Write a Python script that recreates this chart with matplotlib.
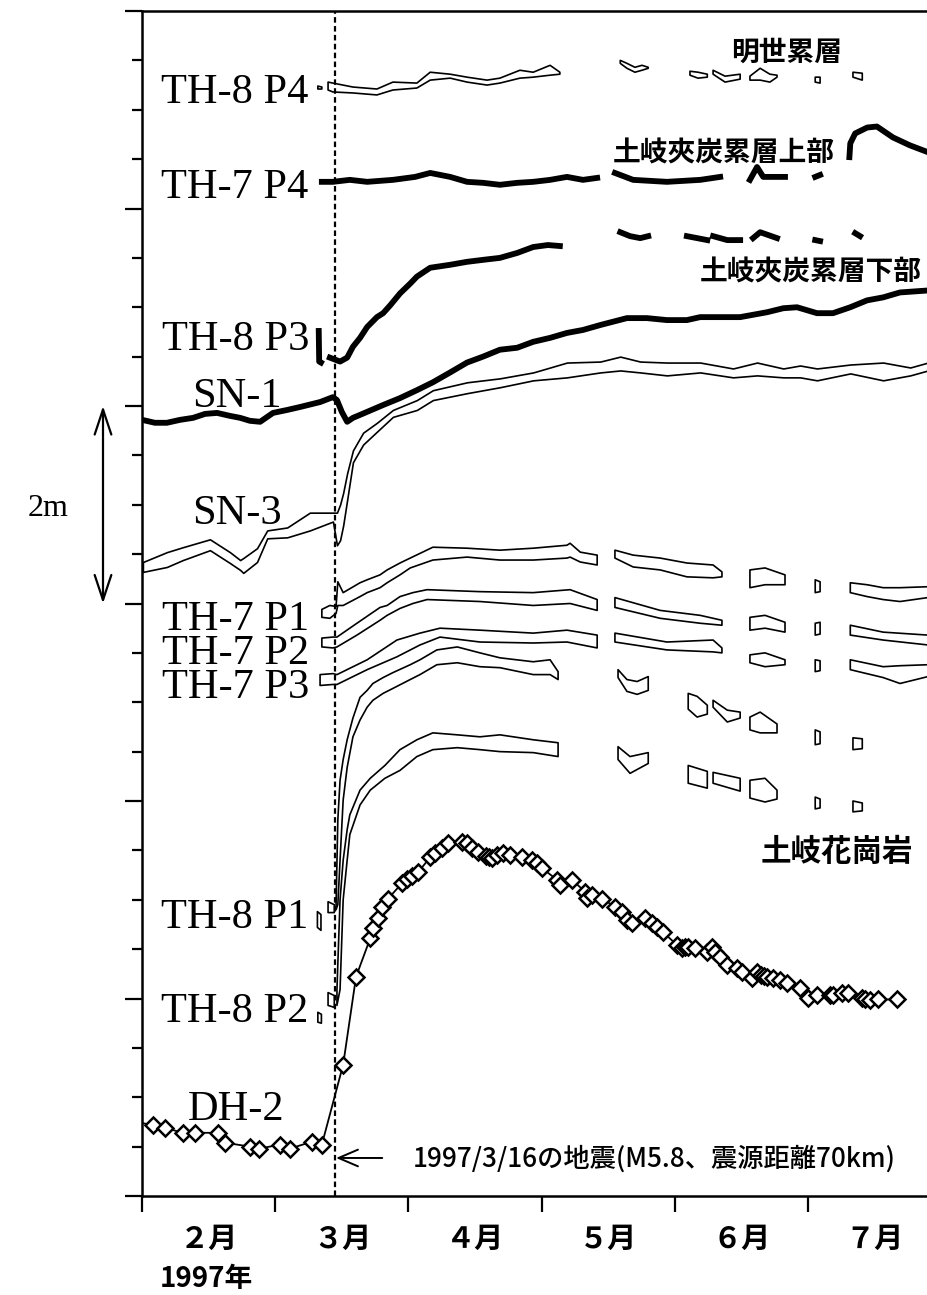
import numpy as np
import matplotlib
matplotlib.use("Agg")
import matplotlib.pyplot as plt

nan = np.nan

# x: days from 1 Feb 1997 (ticks every 30 days), y: water level in m, traces offset
EQ_DAY = 43.5
MONTH_TICKS = [0, 30, 60, 90, 120, 150]
MONTHS = ["２月", "３月", "４月", "５月", "６月", "７月"]

# open traces: daily min / max of each borehole section
TH8P4_DAY = [39.6, 40.5, nan, 41.9, 43.0, 47.5, 52.9, 56.5, 61.9, 64.9, 69.4, 73.2, 77.7, 80.6, 85.1, 88.1, 91.9, 94.1, nan,
             107.7, 109.2, 111.0, 112.6, 114.0, nan, 123.4, 125.2, 127.3, nan, 128.6, 131.3, 134.7, nan,
             136.9, 139.2, 141.4, 143.0, nan, 151.6, 152.7, nan, 160.1, 162.2]
TH8P4_HI = [11.24, 11.23, nan, 11.28, 11.27, 11.23, 11.21, 11.28, 11.27, 11.38, 11.36, 11.33, 11.30, 11.32, 11.40, 11.38, 11.45, 11.38, nan,
            11.50, 11.47, 11.43, 11.45, 11.43, nan, 11.39, 11.38, 11.36, nan, 11.40, 11.34, 11.36, nan,
            11.34, 11.42, 11.36, 11.35, nan, 11.33, 11.33, nan, 11.38, 11.37]
TH8P4_LO = [11.21, 11.21, nan, 11.20, 11.18, 11.17, 11.15, 11.20, 11.22, 11.30, 11.32, 11.28, 11.25, 11.27, 11.32, 11.33, 11.35, 11.36, nan,
            11.47, 11.42, 11.38, 11.40, 11.42, nan, 11.35, 11.32, 11.33, nan, 11.36, 11.28, 11.31, nan,
            11.30, 11.30, 11.28, 11.33, nan, 11.28, 11.27, nan, 11.33, 11.30]

SN3_DAY = [0.2, 5.6, 9.2, 15.3, 19.8, 22.1, 22.8, 25.9, 28.2, 32.7, 37.8, 43.0, 43.9, 44.6, 45.3, 46.2, 47.5, 49.8, 52.9, 56.5,
           61.9, 65.5, 73.2, 80.6, 88.1, 95.7, 103.2, 107.7, 112.2, 118.2, 125.7, 133.1, 138.5, 144.4, 148.2, 152.0,
           159.5, 166.9, 173.0, 177.0]
SN3_HI = [6.42, 6.52, 6.57, 6.65, 6.52, 6.44, 6.46, 6.56, 6.74, 6.77, 6.92, 6.92, 6.92, 7.00, 7.12, 7.32, 7.55, 7.73, 7.83, 7.96,
          8.06, 8.16, 8.24, 8.28, 8.34, 8.44, 8.45, 8.50, 8.45, 8.44, 8.44, 8.38, 8.44, 8.38, 8.41, 8.38,
          8.42, 8.44, 8.39, 8.44]
SN3_LO = [6.32, 6.37, 6.44, 6.54, 6.41, 6.34, 6.31, 6.42, 6.66, 6.67, 6.74, 6.83, 6.59, 6.64, 6.79, 7.05, 7.43, 7.61, 7.74, 7.89,
          7.96, 8.06, 8.13, 8.19, 8.26, 8.29, 8.34, 8.36, 8.34, 8.31, 8.34, 8.29, 8.31, 8.29, 8.29, 8.26,
          8.33, 8.26, 8.31, 8.36]

TH7P1_DAY = [40.5, 42.3, 43.7, 44.1, 45.3, 49.1, 50.7, 53.6, 55.2, 58.1, 60.4, 65.5, 73.2, 80.6, 88.1, 95.7, 96.4, 98.7, 102.5, nan,
             106.5, 110.6, 116.7, 122.7, 128.6, 130.6, nan, 136.9, 140.3, 144.8, nan, 151.6, 152.7, nan,
             159.5, 163.3, 166.9, 170.7, 177.0]
TH7P1_HI = [5.94, 5.98, 5.97, 6.22, 6.11, 6.21, 6.24, 6.29, 6.34, 6.41, 6.46, 6.57, 6.56, 6.54, 6.56, 6.59, 6.61, 6.52, 6.49, nan,
            6.54, 6.49, 6.46, 6.41, 6.39, 6.32, nan, 6.34, 6.36, 6.29, nan, 6.24, 6.22, nan,
            6.21, 6.19, 6.16, 6.16, 6.17]
TH7P1_LO = [5.86, 5.85, 5.90, 5.98, 5.98, 6.07, 6.11, 6.16, 6.21, 6.29, 6.36, 6.44, 6.47, 6.44, 6.44, 6.46, 6.47, 6.42, 6.39, nan,
            6.46, 6.37, 6.34, 6.27, 6.26, 6.27, nan, 6.16, 6.19, 6.19, nan, 6.11, 6.12, nan,
            6.11, 6.07, 6.04, 6.02, 6.06]

TH7P2_DAY = [40.5, 43.0, 43.9, 48.4, 53.6, 55.2, 58.1, 61.0, 64.2, 76.1, 88.1, 96.4, 102.5, nan,
             106.5, 116.7, 125.7, 130.6, nan, 136.9, 140.3, 144.8, nan, 151.6, 152.7, nan, 159.5, 166.9, 177.0]
TH7P2_HI = [5.65, 5.66, 5.66, 5.80, 5.96, 5.98, 6.07, 6.11, 6.14, 6.12, 6.11, 6.14, 6.04, nan,
            6.06, 5.93, 5.88, 5.83, nan, 5.86, 5.88, 5.81, nan, 5.80, 5.81, nan, 5.78, 5.71, 5.68]
TH7P2_LO = [5.56, 5.55, 5.56, 5.68, 5.83, 5.88, 5.95, 6.00, 6.04, 6.02, 5.98, 6.00, 5.93, nan,
            5.96, 5.85, 5.80, 5.78, nan, 5.73, 5.75, 5.71, nan, 5.68, 5.69, nan, 5.68, 5.63, 5.58]

TH7P3_DAY = [40.1, 43.0, 43.9, 50.7, 57.4, 62.6, 67.1, 76.1, 88.1, 95.7, 102.5, nan,
             106.5, 118.2, 128.6, 130.6, nan, 136.9, 140.3, 144.8, nan, 151.6, 152.7, nan, 159.5, 166.9, 170.7, 177.0]
TH7P3_HI = [5.28, 5.29, 5.28, 5.43, 5.63, 5.70, 5.75, 5.73, 5.70, 5.73, 5.68, nan,
            5.70, 5.61, 5.63, 5.55, nan, 5.48, 5.50, 5.43, nan, 5.43, 5.42, nan, 5.43, 5.36, 5.37, 5.38]
TH7P3_LO = [5.17, 5.18, 5.18, 5.33, 5.46, 5.58, 5.66, 5.61, 5.60, 5.61, 5.55, nan,
            5.61, 5.53, 5.51, 5.50, nan, 5.40, 5.36, 5.38, nan, 5.31, 5.32, nan, 5.33, 5.25, 5.19, 5.26]

TH8P1_DAY = [39.5, 40.3, nan, 41.9, 43.3, nan, 43.7, 44.1, 44.6, 45.3, 46.2, 47.5, 49.1, 50.7, 52.0, 54.3, 56.5, 60.4, 62.6,
             66.4, 71.0, 76.1, 80.6, 88.1, 91.9, 93.7, nan, 107.2, 109.2, 111.5, 114.0, nan, 123.0, 125.0, 127.3, nan,
             128.6, 131.8, 134.7, nan, 136.9, 139.2, 143.0, nan, 151.6, 152.7, nan, 160.1, 162.2]
TH8P1_HI = [2.88, 2.85, nan, 2.98, 2.95, nan, 2.95, 3.81, 4.21, 4.42, 4.62, 4.84, 5.05, 5.12, 5.19, 5.25, 5.30, 5.38, 5.43,
            5.53, 5.56, 5.50, 5.45, 5.41, 5.43, 5.31, nan, 5.33, 5.23, 5.21, 5.26, nan, 5.09, 5.06, 4.97, nan,
            5.02, 4.92, 4.90, nan, 4.85, 4.90, 4.78, nan, 4.72, 4.70, nan, 4.64, 4.63]
TH8P1_LO = [2.72, 2.69, nan, 2.87, 2.87, nan, 2.90, 2.95, 3.40, 4.01, 4.34, 4.65, 4.82, 4.95, 5.02, 5.09, 5.14, 5.23, 5.28,
            5.38, 5.40, 5.36, 5.35, 5.28, 5.28, 5.23, nan, 5.25, 5.11, 5.08, 5.12, nan, 4.93, 4.85, 4.88, nan,
            4.95, 4.80, 4.84, nan, 4.72, 4.69, 4.69, nan, 4.57, 4.58, nan, 4.52, 4.53]

TH8P2_DAY = [39.6, 40.4, nan, 41.9, 43.3, nan, 43.9, 44.6, 45.3, 46.2, 46.8, 49.1, 51.4, 54.7, 58.1, 61.9, 65.5, 71.0, 76.1,
             80.6, 88.1, 93.7, nan, 107.2, 109.9, 114.0, nan, 123.0, 127.3, nan, 128.6, 134.7, nan,
             136.9, 140.3, 143.0, nan, 151.6, 152.7, nan, 160.1, 162.2]
TH8P2_HI = [1.86, 1.84, nan, 2.06, 2.03, nan, 2.09, 3.00, 3.40, 3.71, 3.86, 4.11, 4.23, 4.36, 4.52, 4.62, 4.69, 4.67, 4.65,
            4.67, 4.62, 4.59, nan, 4.55, 4.45, 4.49, nan, 4.36, 4.30, nan, 4.29, 4.23, nan,
            4.21, 4.23, 4.11, nan, 4.04, 4.02, nan, 4.00, 3.98]
TH8P2_LO = [1.76, 1.75, nan, 1.93, 1.91, nan, 1.93, 2.09, 3.00, 3.40, 3.66, 3.96, 4.11, 4.23, 4.31, 4.45, 4.52, 4.54, 4.52,
            4.50, 4.49, 4.45, nan, 4.42, 4.28, 4.38, nan, 4.18, 4.13, nan, 4.18, 4.10, nan,
            4.03, 3.99, 4.02, nan, 3.92, 3.93, nan, 3.89, 3.90]

# heavy traces
TH7P4_DAY = [40.5, 43.0, 46.8, 50.7, 56.5, 61.5, 64.9, 69.4, 73.2, 76.8, 80.6, 84.5, 88.1, 91.9, 95.7, 99.3, 102.5, nan,
             106.5, 110.6, 118.2, 125.7, 130.2, nan, 136.9, 138.5, 139.9, 144.8, nan, 151.6, 152.7, nan,
             159.3, 159.5, 160.6, 163.3, 165.5, 169.1, 172.9, 177.0]
TH7P4_LVL = [10.27, 10.27, 10.29, 10.27, 10.29, 10.32, 10.36, 10.32, 10.27, 10.26, 10.24, 10.26, 10.27, 10.29, 10.32, 10.29, 10.31, nan,
             10.36, 10.29, 10.27, 10.29, 10.32, nan, 10.29, 10.42, 10.32, 10.32, nan, 10.32, 10.34, nan,
             10.52, 10.66, 10.76, 10.82, 10.83, 10.72, 10.64, 10.57]

TH8P3_DAY = [39.8, 39.9, 40.3, nan, 42.3, 44.6, 46.2, 47.5, 49.1, 50.7, 52.9, 54.3, 55.9, 58.1, 60.4, 61.9, 64.9, 69.4, 73.2,
             76.8, 80.6, 84.5, 88.1, 91.4, 94.1, nan, 107.7, 109.9, 112.2, 114.0, nan, 122.7, 125.0, 127.3, nan,
             128.6, 131.8, 134.7, nan, 137.6, 139.2, 143.0, nan, 151.6, 152.7, nan, 160.6, 161.7]
TH8P3_LVL = [8.76, 8.45, 8.44, nan, 8.49, 8.45, 8.49, 8.60, 8.69, 8.80, 8.90, 8.94, 9.02, 9.14, 9.24, 9.31, 9.40, 9.43, 9.46,
             9.48, 9.50, 9.55, 9.61, 9.63, 9.62, nan, 9.76, 9.72, 9.70, 9.72, nan, 9.72, 9.70, 9.68, nan,
             9.72, 9.68, 9.68, nan, 9.70, 9.76, 9.70, nan, 9.68, 9.67, nan, 9.75, 9.72]

SN1_DAY = [0, 2.9, 5.6, 8.6, 11.5, 14.2, 16.9, 19.8, 22.1, 24.3, 26.6, 29.5, 32.7, 35.6, 40.1, 43.0, 43.9, 45.0, 46.2, 47.5,
           49.1, 54.3, 58.1, 61.9, 65.5, 69.4, 73.2, 76.8, 80.6, 84.5, 88.1, 91.9, 95.7, 99.3, 103.2, 109.2, 113.7,
           118.2, 122.7, 125.7, 130.2, 134.7, 140.8, 144.4, 147.5, 152.0, 155.6, 159.5, 163.3, 166.9, 170.7, 177.0]
SN1_LVL = [7.86, 7.83, 7.83, 7.86, 7.88, 7.92, 7.93, 7.90, 7.88, 7.85, 7.84, 7.93, 7.96, 7.99, 8.04, 8.09, 8.06, 7.94, 7.84, 7.88,
           7.91, 8.01, 8.08, 8.16, 8.24, 8.34, 8.44, 8.50, 8.57, 8.59, 8.65, 8.69, 8.74, 8.77, 8.82, 8.89, 8.89,
           8.87, 8.87, 8.90, 8.90, 8.90, 8.95, 8.99, 9.00, 8.94, 8.94, 9.00, 9.07, 9.10, 9.15, 9.17]

# DH-2 manual readings
DH2_DAY = [-3, 2.5, 5.2, 9.2, 11.9, 17.1, 18.7, 24.3, 26.4, 31.1, 33.3, 38.3, 40.5, 45.3, 48.2, 51.4, 52.0, 53.2, 54.1, 55.4,
           58.6, 59.7, 60.8, 62.2, 64.9, 66.0, 67.6, 68.9, 72.1, 73.2, 74.3, 75.7, 77.5, 78.1, 78.8, 80.0, 81.3, 82.9,
           85.6, 87.8, 89.0, 90.1, 93.5, 94.2, 96.9, 99.8, 100.2, 101.4, 103.6, 106.5, 108.1, 109.2, 110.4, 113.3,
           114.9, 116.0, 117.4, 120.5, 121.6, 122.3, 123.0, 124.6, 127.3, 128.4, 129.1, 130.2, 131.8, 134.0, 135.1,
           137.4, 138.5, 139.4, 140.1, 140.8, 142.1, 143.7, 145.3, 148.2, 150.0, 152.0, 154.9, 155.6, 157.7, 159.0,
           162.2, 162.8, 164.0, 165.8, 170.1]
DH2_LVL = [0.76, 0.72, 0.69, 0.64, 0.64, 0.64, 0.54, 0.50, 0.48, 0.52, 0.48, 0.55, 0.52, 1.33, 2.22, 2.61, 2.71, 2.82, 2.93, 3.01,
           3.17, 3.21, 3.24, 3.28, 3.43, 3.47, 3.52, 3.57, 3.58, 3.57, 3.52, 3.48, 3.44, 3.43, 3.42, 3.45, 3.47, 3.45,
           3.43, 3.40, 3.37, 3.32, 3.20, 3.15, 3.20, 3.08, 3.02, 3.05, 3.01, 2.93, 2.88, 2.79, 2.76, 2.82,
           2.76, 2.72, 2.67, 2.54, 2.51, 2.52, 2.52, 2.51, 2.47, 2.52, 2.47, 2.42, 2.34, 2.31, 2.27,
           2.21, 2.27, 2.24, 2.23, 2.22, 2.21, 2.19, 2.16, 2.11, 2.01, 2.04, 2.04, 2.04, 2.06, 2.06,
           2.01, 2.00, 1.98, 1.99, 1.99]

# trace names: (text, day, level at baseline of the last line);
# the three TH-7 sections are one stacked block
TRACE_LABELS = [("TH-8 P4", 4.2, 11.07), ("TH-7 P4", 4.2, 10.11), ("TH-8 P3", 4.6, 8.57), ("SN-1", 11.3, 7.99),
                ("SN-3", 11.3, 6.81), ("TH-7 P1\nTH-7 P2\nTH-7 P3", 4.6, 5.04),
                ("TH-8 P1", 4.2, 2.71), ("TH-8 P2", 4.2, 1.76), ("DH-2", 10.4, 0.77)]
# formations: (text, day, level, size)
LAYER_LABELS = [("明世累層", 145.1, 11.58, 20), ("土岐夾炭累層上部", 131.1, 10.56, 20),
                ("土岐夾炭累層下部", 150.7, 9.35, 20), ("土岐花崗岩", 156.4, 3.48, 22)]

SERIF = "Liberation Serif"
GOTHIC = ["Noto Sans CJK JP", "DejaVu Sans"]


def as_array(values):
    return np.array(values, dtype=float)


def draw_band(ax, day, lo, hi):
    ax.fill_between(as_array(day), as_array(lo), as_array(hi), facecolor="white",
                    edgecolor="black", linewidth=1.2, zorder=3)


fig = plt.figure(figsize=(9.28, 12.95), dpi=100)
ax = fig.add_axes([142 / 928, 1 - 1196 / 1295, 786 / 928, 1185 / 1295])

for day, lvl in [(SN1_DAY, SN1_LVL), (TH8P3_DAY, TH8P3_LVL), (TH7P4_DAY, TH7P4_LVL)]:
    ax.plot(as_array(day), as_array(lvl), color="black", lw=4.2, zorder=4)

draw_band(ax, TH8P4_DAY, TH8P4_LO, TH8P4_HI)
draw_band(ax, SN3_DAY, SN3_LO, SN3_HI)
draw_band(ax, TH7P1_DAY, TH7P1_LO, TH7P1_HI)
draw_band(ax, TH7P2_DAY, TH7P2_LO, TH7P2_HI)
draw_band(ax, TH7P3_DAY, TH7P3_LO, TH7P3_HI)
draw_band(ax, TH8P1_DAY, TH8P1_LO, TH8P1_HI)
draw_band(ax, TH8P2_DAY, TH8P2_LO, TH8P2_HI)

ax.plot(DH2_DAY, DH2_LVL, color="black", lw=1.3, marker="D", ms=7.8, mfc="white",
        mec="black", mew=1.8, zorder=6)

# earthquake of 16 March
ax.axvline(EQ_DAY, color="black", lw=1.6, linestyle=(0, (2.5, 1.5)), zorder=5)
ax.annotate("", xy=(43.7, 0.385), xytext=(54.1, 0.385),
            arrowprops=dict(arrowstyle="->,head_length=0.7,head_width=0.3", lw=1.4,
                            color="black", mutation_scale=20, shrinkA=0, shrinkB=0))
ax.text(61.0, 0.37, "1997/3/16の地震(M5.8、震源距離70km)", family=GOTHIC, fontsize=18.9,
        weight="medium", ha="left", va="center")

for text, day, lvl in TRACE_LABELS:
    ax.text(day, lvl, text, family=SERIF, fontsize=30.5, ha="left", va="baseline",
            linespacing=0.85)
for text, day, lvl, size in LAYER_LABELS:
    ax.text(day, lvl, text, family=GOTHIC, fontsize=size, weight="bold", ha="center", va="center")

# 2 m scale bar left of the axis
ax.annotate("", xy=(103 / 928, 8.0), xytext=(103 / 928, 6.0),
            xycoords=("figure fraction", "data"), textcoords=("figure fraction", "data"),
            arrowprops=dict(arrowstyle="<->,head_length=0.9,head_width=0.3", lw=1.6,
                            color="black", mutation_scale=20, shrinkA=0, shrinkB=0),
            annotation_clip=False)
fig.text(28 / 928, 1 - 516 / 1295, "2m", family=SERIF, fontsize=23, ha="left", va="baseline")

ax.set_xlim(0, 177)
ax.set_ylim(0, 12)
ax.set_xticks(MONTH_TICKS)
ax.set_xticklabels([])
ax.set_yticks(np.arange(0, 12.1, 2))
ax.set_yticks(np.arange(0, 12.1, 0.5), minor=True)
ax.set_yticklabels([])
ax.tick_params(axis="x", direction="out", length=11.5, width=1.6)
ax.tick_params(axis="y", which="major", direction="out", length=12, width=1.6)
ax.tick_params(axis="y", which="minor", direction="out", length=7, width=1.6)
for side in ("left", "bottom", "top"):
    ax.spines[side].set_linewidth(1.8)
ax.spines["right"].set_visible(False)

xtrans = ax.get_xaxis_transform()
for tick, name in zip(MONTH_TICKS, MONTHS):
    ax.text(tick + 15, -0.036, name, transform=xtrans, family=GOTHIC, fontsize=21,
            weight="bold", ha="center", va="center")
ax.text(4.0, -0.070, "1997年", transform=xtrans, family=GOTHIC, fontsize=20,
        weight="bold", ha="left", va="center")

fig.savefig("out.png", dpi=100)
